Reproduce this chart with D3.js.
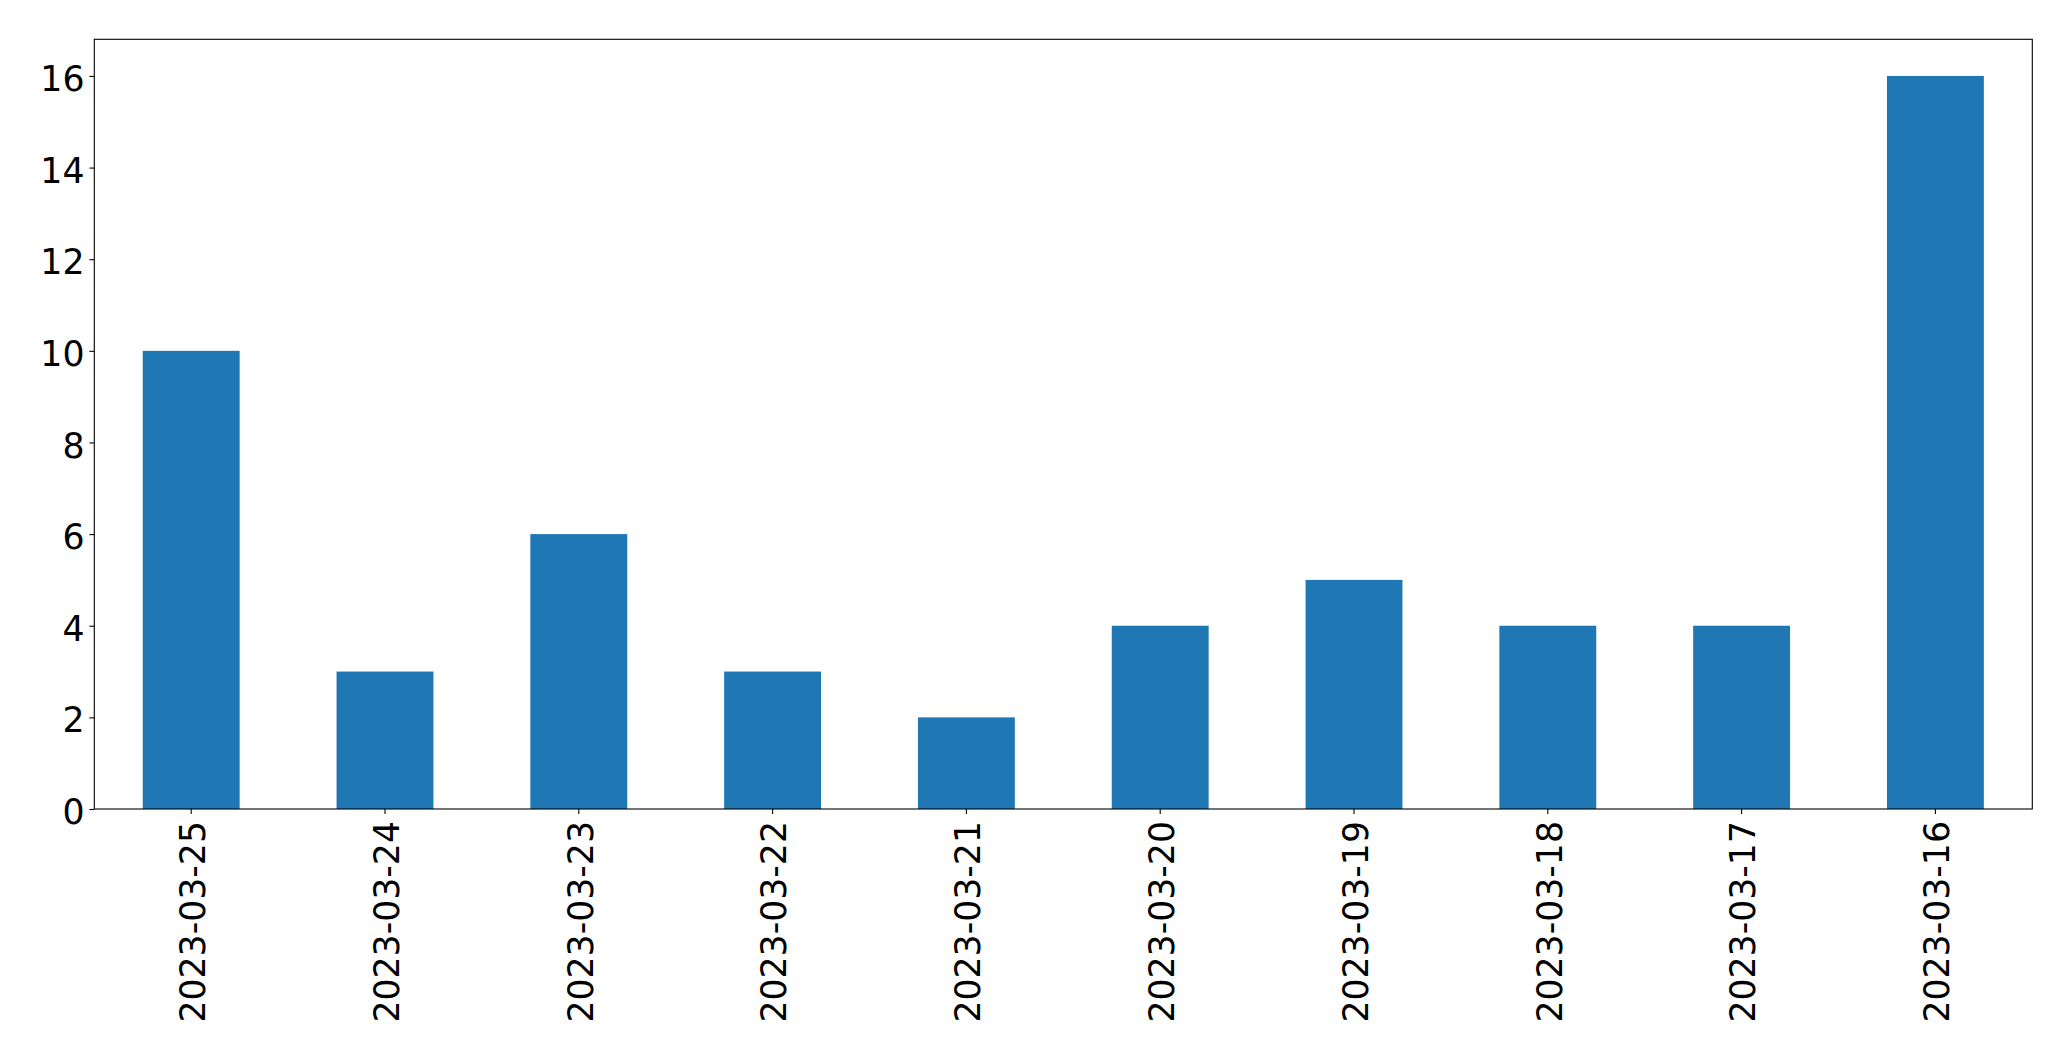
<!DOCTYPE html>
<html><head><meta charset="utf-8">
<script src="https://cdn.jsdelivr.net/npm/d3@7"></script>
<style>html,body{margin:0;padding:0;background:#fff;}</style>
</head><body>
<svg id="c" width="2071" height="1061"></svg>
<script>
const categories = ["2023-03-25","2023-03-24","2023-03-23","2023-03-22","2023-03-21","2023-03-20","2023-03-19","2023-03-18","2023-03-17","2023-03-16"];
const values = [10, 3, 6, 3, 2, 4, 5, 4, 4, 16];
const yTicks = [0, 2, 4, 6, 8, 10, 12, 14, 16];

(function () {
const mLeft = 94.3, mRight = 2032.3, mTop = 39.3, mBottom = 809;
const fontSize = 34.7;
const svg = d3.select("#c");
const x = d3.scaleBand().domain(categories).range([mLeft, mRight]).paddingInner(0.5).paddingOuter(0.25);
const y = d3.scaleLinear().domain([0, 16.8]).range([mBottom, mTop]);

svg.append("g").selectAll("rect").data(values).join("rect")
  .attr("x", (d, i) => x(categories[i]))
  .attr("width", x.bandwidth())
  .attr("y", d => y(d))
  .attr("height", d => y(0) - y(d))
  .attr("fill", "#1f77b4");

svg.append("rect").attr("x", mLeft).attr("y", mTop).attr("width", mRight - mLeft).attr("height", mBottom - mTop)
  .attr("fill", "none").attr("stroke", "#000").attr("stroke-width", 1.1);

const yAxis = svg.append("g").attr("transform", `translate(${mLeft},0)`)
  .call(d3.axisLeft(y).tickValues(yTicks).tickSize(4.9).tickPadding(4.9).tickFormat(d3.format("d")));
yAxis.select(".domain").remove();
yAxis.selectAll("line").attr("stroke", "#000").attr("stroke-width", 1.1);
yAxis.selectAll("text").attr("font-family", "DejaVu Sans").attr("font-size", fontSize).attr("fill", "#000").attr("dy", "0.42em");

const xAxis = svg.append("g").attr("transform", `translate(0,${mBottom})`)
  .call(d3.axisBottom(x).tickSize(4.9).tickPadding(0));
xAxis.select(".domain").remove();
xAxis.selectAll("line").attr("stroke", "#000").attr("stroke-width", 1.1);
xAxis.selectAll("text")
  .attr("font-family", "DejaVu Sans").attr("font-size", fontSize).attr("fill", "#000")
  .attr("text-anchor", "end")
  .attr("transform", "translate(0,12) rotate(-90)")
  .attr("x", 0).attr("y", 0).attr("dy", "0.4em");
})();
</script>
</body></html>
